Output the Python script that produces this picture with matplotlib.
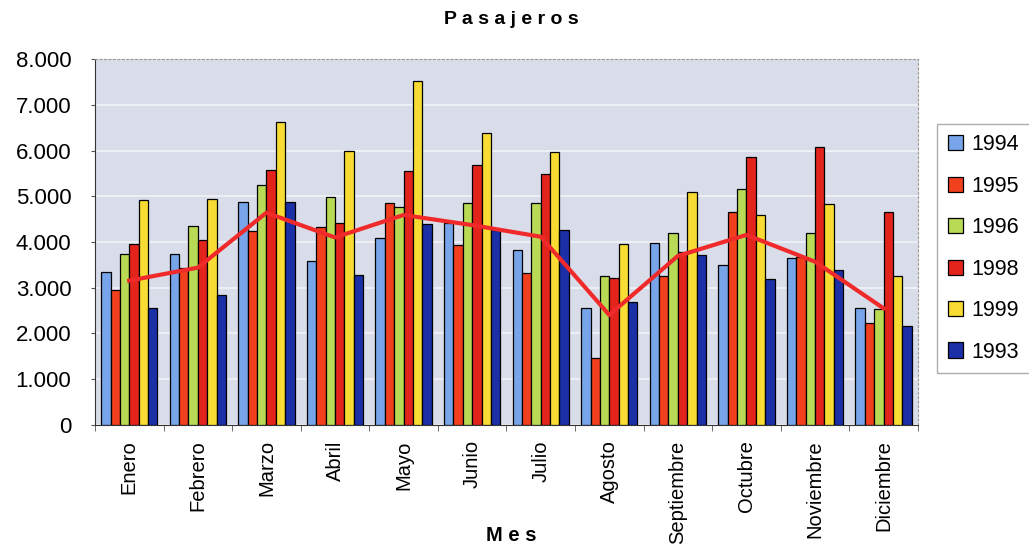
import matplotlib
matplotlib.use("Agg")
import matplotlib.pyplot as plt
import numpy as np
from matplotlib.ticker import FuncFormatter, FixedLocator

plt.rcParams['font.family'] = ['Liberation Sans', 'DejaVu Sans']

meses = ["Enero", "Febrero", "Marzo", "Abril", "Mayo", "Junio", "Julio",
         "Agosto", "Septiembre", "Octubre", "Noviembre", "Diciembre"]
series_names = ["1994", "1995", "1996", "1998", "1999", "1993"]
v1994 = [3350, 3745, 4880, 3590, 4080, 4410, 3820, 2565, 3970, 3500, 3645, 2550]
v1995 = [2940, 3430, 4250, 4320, 4850, 3940, 3330, 1460, 3260, 4660, 3670, 2240]
v1996 = [3730, 4350, 5245, 4985, 4770, 4860, 4860, 3260, 4190, 5160, 4205, 2540]
v1998 = [3950, 4045, 5575, 4420, 5550, 5690, 5480, 3210, 3790, 5860, 6085, 4660]
v1999 = [4920, 4940, 6630, 5990, 7520, 6390, 5960, 3965, 5100, 4590, 4825, 3260]
v1993 = [2565, 2835, 4880, 3285, 4395, 4260, 4260, 2695, 3715, 3200, 3390, 2165]
linea = [3155, 3440, 4640, 4100, 4590, 4370, 4115, 2405, 3695, 4155, 3570, 2550]
yticks = [0, 1000, 2000, 3000, 4000, 5000, 6000, 7000, 8000]

colors = ["#78a4ea", "#f2401e", "#b9da55", "#e2241c", "#f8dc34", "#1b2fa6"]
values = [v1994, v1995, v1996, v1998, v1999, v1993]

fig = plt.figure(figsize=(10.29, 5.49), dpi=100)
ax = fig.add_axes([0.0923, 0.2259, 0.7997, 0.6666])
ax.set_facecolor("#d9dde9")

x = np.arange(len(meses))
n = len(values)
group_w = 0.82
bw = group_w / n
handles = []
for i, (vals, c, name) in enumerate(zip(values, colors, series_names)):
    h = ax.bar(x - group_w / 2 + bw * (i + 0.5), vals, width=bw, color=c,
               edgecolor="black", linewidth=0.9, label=name, zorder=3)
    handles.append(h)

ax.plot(x, linea, color="#f02a2a", linewidth=3, zorder=4)

ax.set_xlim(-0.5, len(meses) - 0.5)
ax.set_ylim(0, 8000)
ax.yaxis.set_major_locator(FixedLocator(yticks))
ax.yaxis.set_major_formatter(FuncFormatter(lambda v, p: f"{int(v):,}".replace(",", ".")))
ax.grid(axis="y", color="#f2f3f8", linewidth=1.2, zorder=1)
ax.set_axisbelow(True)

ax.set_xticks(x)
ax.set_xticklabels(meses, rotation=90, fontsize=14.5)
ax.set_xticks(np.arange(-0.5, len(meses), 1), minor=True)
ax.tick_params(axis="x", which="major", length=0, pad=11)
ax.tick_params(axis="x", which="minor", length=4, color="#555555")
ax.tick_params(axis="y", labelsize=16, length=3, color="#555555", pad=14)

for s in ["top", "right"]:
    ax.spines[s].set_color("#9a9a9a")
    ax.spines[s].set_linestyle((0, (2, 2)))
    ax.spines[s].set_linewidth(0.8)
ax.spines["left"].set_color("#333333")
ax.spines["left"].set_linestyle((0, (2, 1)))
ax.spines["bottom"].set_color("#333333")

fig.text(0.497, 0.965, "P a s a j e r o s", ha="center", va="center",
         fontsize=14, fontweight="bold")
fig.text(0.497, 0.025, "M e s", ha="center", va="center",
         fontsize=14.5, fontweight="bold")

leg = fig.legend(handles=handles, labels=series_names, loc="upper left",
                 bbox_to_anchor=(0.911, 0.775), fontsize=15.5, frameon=True,
                 fancybox=False, edgecolor="#999999", handlelength=0.7,
                 handleheight=0.7, handletextpad=0.4, labelspacing=0.95,
                 borderpad=0.5, borderaxespad=0)

fig.savefig("out.png", dpi=100, facecolor="white")
